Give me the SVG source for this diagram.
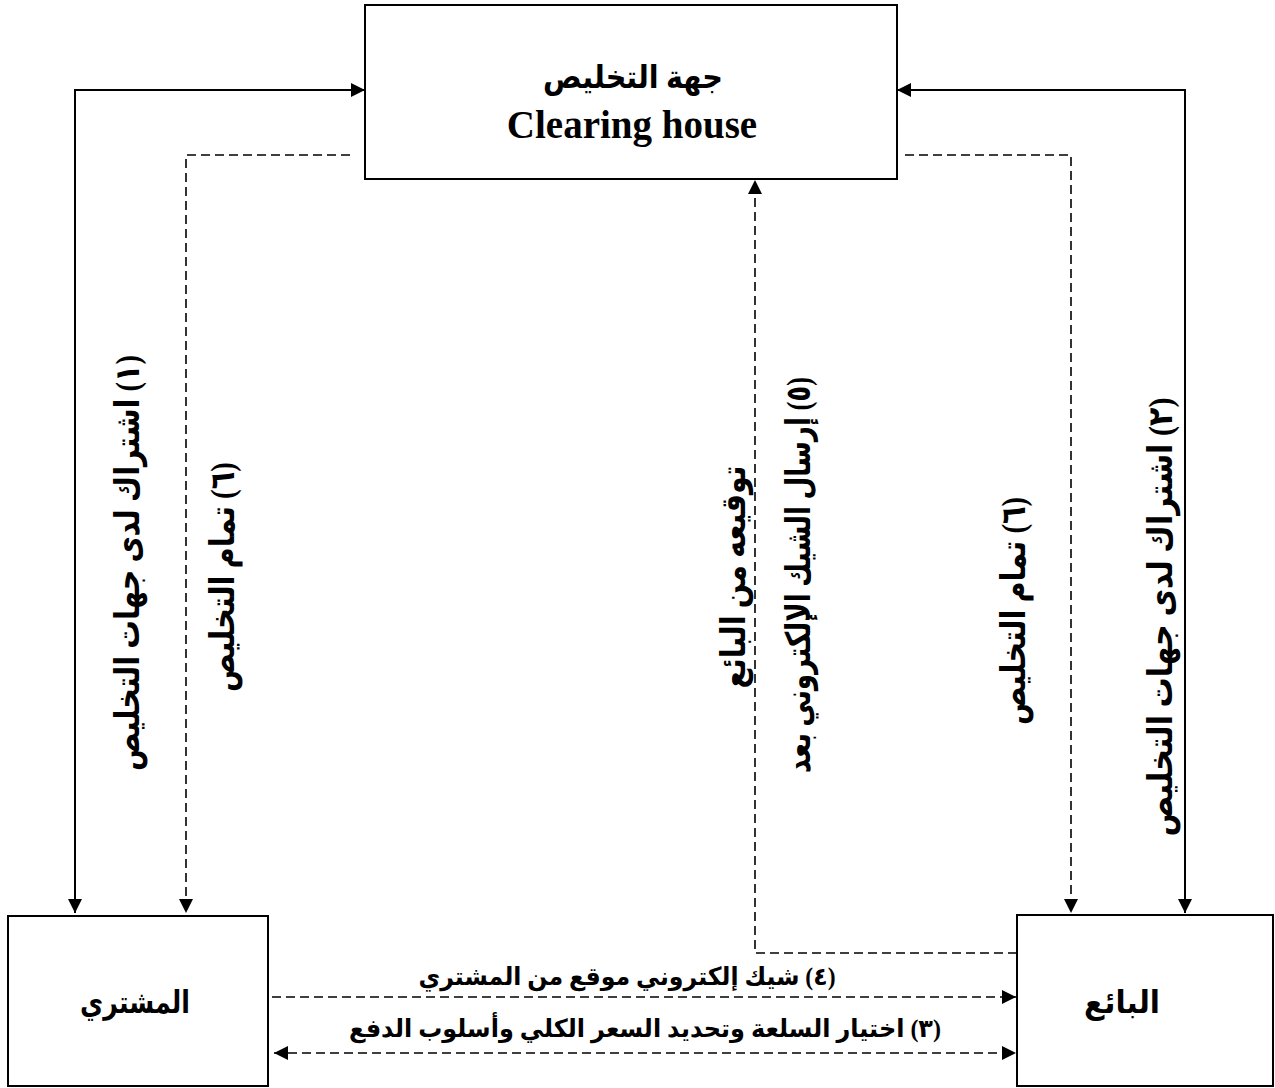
<svg xmlns="http://www.w3.org/2000/svg" width="1275" height="1088" viewBox="0 0 1275 1088">
  <style>
    .box { fill: #ffffff; stroke: #000000; stroke-width: 2; }
    .solid { fill: none; stroke: #000000; stroke-width: 2; }
    .dash { fill: none; stroke: #000000; stroke-width: 1.6; stroke-dasharray: 9 5; }
    .ar { font-family: "Liberation Serif", "DejaVu Sans", serif; font-weight: bold; fill: #000000; direction: rtl; text-anchor: middle; }
    .en { font-family: "Liberation Serif", serif; font-weight: bold; fill: #000000; text-anchor: middle; }
    .vt { font-size: 34px; }
  </style>
  <defs>
    <marker id="arr" viewBox="0 0 14 14" refX="14" refY="7" markerWidth="14" markerHeight="14" markerUnits="userSpaceOnUse" orient="auto-start-reverse">
      <path d="M0,0 L14,7 L0,14 z" fill="#000000"/>
    </marker>
  </defs>
  <rect width="1275" height="1088" fill="#ffffff"/>

  <g id="connectors">
    <path class="solid" d="M365,90 H75 V913" marker-start="url(#arr)" marker-end="url(#arr)"/>
    <path class="dash" d="M350,155 H186 V913" marker-end="url(#arr)"/>
    <path class="solid" d="M897,90 H1185 V913" marker-start="url(#arr)" marker-end="url(#arr)"/>
    <path class="dash" d="M905,155 H1071 V913" marker-end="url(#arr)"/>
    <path class="dash" d="M1017,953 H755 V180" marker-end="url(#arr)"/>
    <path class="dash" d="M272,997 H1016" marker-end="url(#arr)"/>
    <path class="dash" d="M274,1053 H1016" marker-start="url(#arr)" marker-end="url(#arr)"/>
  </g>

  <g id="clearing-house">
    <rect class="box" x="365" y="5" width="532" height="174"/>
    <text class="ar" x="633" y="88" font-size="32" textLength="180" lengthAdjust="spacingAndGlyphs">جهة التخليص</text>
    <text class="en" x="632" y="138" font-size="39">Clearing house</text>
  </g>

  <g id="buyer">
    <rect class="box" x="8" y="916" width="260" height="170"/>
    <text class="ar" x="135" y="1013" font-size="31" textLength="110" lengthAdjust="spacingAndGlyphs">المشتري</text>
  </g>

  <g id="seller">
    <rect class="box" x="1017" y="915" width="256" height="171"/>
    <text class="ar" x="1122" y="1013" font-size="31" textLength="76" lengthAdjust="spacingAndGlyphs">البائع</text>
  </g>

  <g id="labels">
    <text class="ar vt" transform="translate(139,563) rotate(-90)" textLength="416" lengthAdjust="spacingAndGlyphs">(١) اشتراك لدى جهات التخليص</text>
    <text class="ar vt" transform="translate(234,577) rotate(-90)" textLength="230" lengthAdjust="spacingAndGlyphs">(٦) تمام التخليص</text>
    <text class="ar vt" transform="translate(745,577) rotate(-90)" textLength="223" lengthAdjust="spacingAndGlyphs">توقيعه من البائع</text>
    <text class="ar vt" transform="translate(810,575) rotate(-90)" textLength="396" lengthAdjust="spacingAndGlyphs">(٥) إرسال الشيك الإلكتروني بعد</text>
    <text class="ar vt" transform="translate(1025,611) rotate(-90)" textLength="228" lengthAdjust="spacingAndGlyphs">(٦) تمام التخليص</text>
    <text class="ar vt" transform="translate(1172,617) rotate(-90)" textLength="439" lengthAdjust="spacingAndGlyphs">(٢) اشتراك لدى جهات التخليص</text>
    <text class="ar" font-size="25" x="627" y="985" textLength="417" lengthAdjust="spacingAndGlyphs">(٤) شيك إلكتروني موقع من المشتري</text>
    <text class="ar" font-size="25" x="645" y="1037" textLength="592" lengthAdjust="spacingAndGlyphs">(٣) اختيار السلعة وتحديد السعر الكلي وأسلوب الدفع</text>
  </g>
</svg>
